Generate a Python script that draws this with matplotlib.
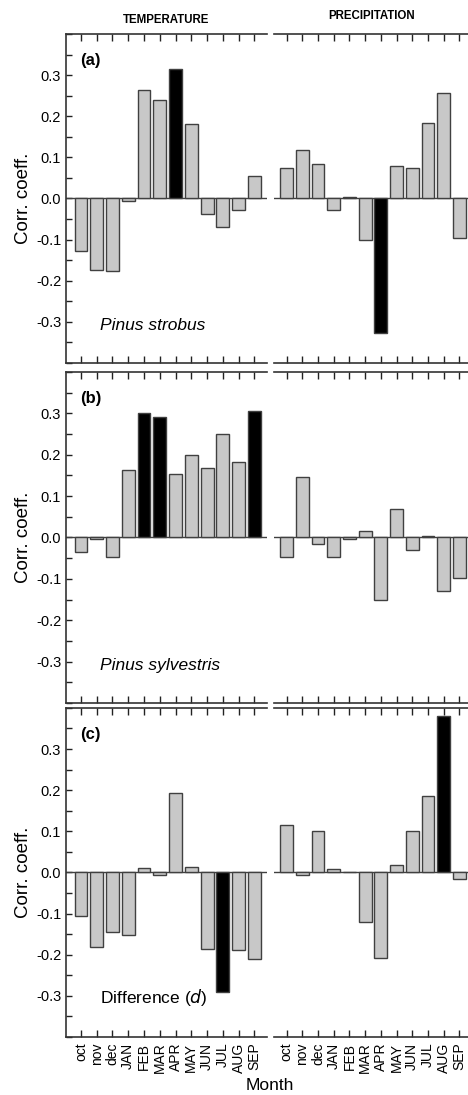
import numpy as np
import matplotlib.pyplot as plt
from matplotlib.ticker import MultipleLocator

plt.rcParams['font.family'] = ['Liberation Sans', 'DejaVu Sans']
plt.rcParams['axes.unicode_minus'] = False

months = ['oct', 'nov', 'dec', 'JAN', 'FEB', 'MAR', 'APR', 'MAY', 'JUN', 'JUL', 'AUG', 'SEP']

# (a) Pinus strobus
temp_a = [-0.127, -0.175, -0.177, -0.006, 0.264, 0.239, 0.315, 0.180, -0.038, -0.069, -0.027, 0.055]
prec_a = [0.075, 0.117, 0.085, -0.028, 0.003, -0.100, -0.326, 0.078, 0.073, 0.184, 0.256, -0.096]
# (b) Pinus sylvestris
temp_b = [-0.035, -0.003, -0.048, 0.164, 0.302, 0.291, 0.154, 0.199, 0.168, 0.249, 0.182, 0.306]
prec_b = [-0.047, 0.146, -0.016, -0.047, -0.003, 0.015, -0.151, 0.069, -0.030, 0.003, -0.130, -0.099]
# (c) difference
temp_c = [-0.106, -0.182, -0.144, -0.151, 0.010, -0.006, 0.193, 0.013, -0.186, -0.290, -0.188, -0.210]
prec_c = [0.115, -0.006, 0.101, 0.009, 0.002, -0.120, -0.209, 0.019, 0.100, 0.186, 0.380, -0.015]

# months drawn in black (significant)
sig_temp = [['APR'], ['FEB', 'MAR', 'SEP'], ['JUL']]
sig_prec = [['APR'], [], ['AUG']]

panel_labels = ['(a)', '(b)', '(c)']
species = ['Pinus strobus', 'Pinus sylvestris', None]

gray = '#c8c8c8'
edge = '#404040'

fig = plt.figure(figsize=(4.68, 10.95), dpi=100)

rows = [(0.6685, 0.3005), (0.358, 0.3023), (0.053, 0.3005)]
data = [(temp_a, prec_a), (temp_b, prec_b), (temp_c, prec_c)]
x = np.arange(len(months))

for r, (bottom, height) in enumerate(rows):
    axL = fig.add_axes([0.141, bottom, 0.4295, height])
    axR = fig.add_axes([0.5855, bottom, 0.4145, height])
    for ax, vals, sig, xlim in [(axL, data[r][0], sig_temp[r], (-0.95, 11.8)),
                                (axR, data[r][1], sig_prec[r], (-0.8, 11.55))]:
        cols = ['black' if m in sig else gray for m in months]
        ax.bar(x, vals, width=0.82, color=cols, edgecolor=edge, linewidth=1.0, zorder=3)
        ax.axhline(0, color=edge, lw=1.0, zorder=2)
        ax.set_xlim(*xlim)
        ax.set_ylim(-0.4, 0.4)
        ax.set_xticks(x)
        ax.tick_params(axis='x', direction='in', top=True, bottom=True, length=5,
                       width=1.0, color='#222222', labelsize=10, rotation=90, pad=4)
        for s in ['top', 'bottom', 'left']:
            ax.spines[s].set_color('#333333')
            ax.spines[s].set_linewidth(1.2)
        ax.spines['right'].set_visible(False)
        if r < 2:
            ax.set_xticklabels([])
        else:
            ax.set_xticklabels(months)
    axR.spines['left'].set_visible(False)
    axR.set_yticks([])

    axL.yaxis.set_major_locator(MultipleLocator(0.1))
    axL.yaxis.set_minor_locator(MultipleLocator(0.05))
    axL.set_yticks([-0.3, -0.2, -0.1, 0.0, 0.1, 0.2, 0.3])
    axL.tick_params(axis='y', which='both', direction='in', length=4, width=1.0,
                    color='#222222', labelsize=10.5)
    axL.set_ylabel('Corr. coeff.', fontsize=13.5, labelpad=3)

    axL.text(0.07, 0.92, panel_labels[r], transform=axL.transAxes, fontsize=12,
             fontweight='bold', va='center')
    if species[r] is not None:
        axL.text(1.2, -0.31, species[r], fontsize=12.5, style='italic', va='center')
    else:
        axL.text(1.2, -0.304, 'Difference ($\\it{d}$)', fontsize=12.5, va='center')

    if r == 0:
        axL.set_title('TEMPERATURE', fontsize=8.3, fontweight='bold', pad=8)
        axR.text(0.505, 1.037, 'PRECIPITATION', transform=axR.transAxes,
                 fontsize=8.3, fontweight='bold', ha='center', va='bottom')

fig.text(0.577, 0.009, 'Month', fontsize=12.5, ha='center', va='center')

fig.savefig('out.png', dpi=100, facecolor='white')
